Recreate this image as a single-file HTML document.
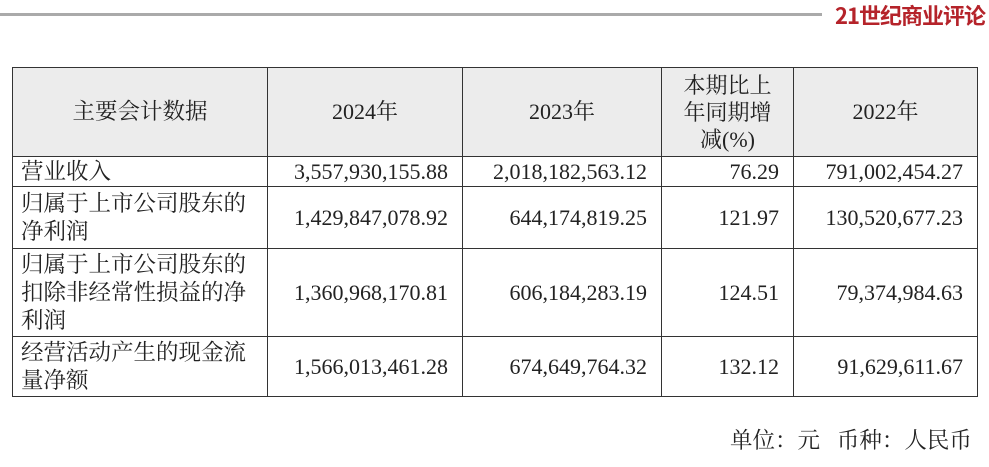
<!DOCTYPE html>
<html><head><meta charset="utf-8"><style>
body{margin:0;width:989px;height:467px;background:#fff;position:relative;overflow:hidden;font-family:"Liberation Serif","Noto Serif CJK SC",serif;color:#222}
.l{position:absolute}
table{position:absolute;left:12px;top:67px;border-collapse:collapse;font-size:22px;table-layout:fixed;width:965px}
td{border:1.5px solid #333;padding:0 8px;line-height:28px;white-space:nowrap}
.h td{background:#ececec;text-align:center}
.r{text-align:right;padding-right:14px}
.c{font-size:22.5px}
</style></head><body>
<div class="l" style="left:0;top:13px;width:822px;height:3px;background:#aaa"></div>
<div class="l" style="left:835px;top:-1px;font-family:'Noto Sans CJK SC',sans-serif;font-weight:bold;font-size:22px;color:#b5232a;letter-spacing:-1px">21世纪商业评论</div>
<table>
<colgroup><col style="width:255px"><col style="width:195px"><col style="width:199px"><col style="width:132px"><col style="width:184px"></colgroup>
<tr class="h" style="height:89px"><td class="c">主要会计数据</td><td>2024年</td><td>2023年</td><td style="line-height:27px">本期比上<br>年同期增<br>减(%)</td><td>2022年</td></tr>
<tr style="height:30px"><td class="c">营业收入</td><td class="r">3,557,930,155.88</td><td class="r">2,018,182,563.12</td><td class="r">76.29</td><td class="r">791,002,454.27</td></tr>
<tr style="height:62px"><td class="c">归属于上市公司股东的<br>净利润</td><td class="r">1,429,847,078.92</td><td class="r">644,174,819.25</td><td class="r">121.97</td><td class="r">130,520,677.23</td></tr>
<tr style="height:88px"><td class="c">归属于上市公司股东的<br>扣除非经常性损益的净<br>利润</td><td class="r">1,360,968,170.81</td><td class="r">606,184,283.19</td><td class="r">124.51</td><td class="r">79,374,984.63</td></tr>
<tr style="height:60px"><td class="c">经营活动产生的现金流<br>量净额</td><td class="r">1,566,013,461.28</td><td class="r">674,649,764.32</td><td class="r">132.12</td><td class="r">91,629,611.67</td></tr>
</table>
<div class="l" style="left:730px;top:423px;font-size:22.5px">单位：元&nbsp;&nbsp;&nbsp;币种：人民币</div>
</body></html>
